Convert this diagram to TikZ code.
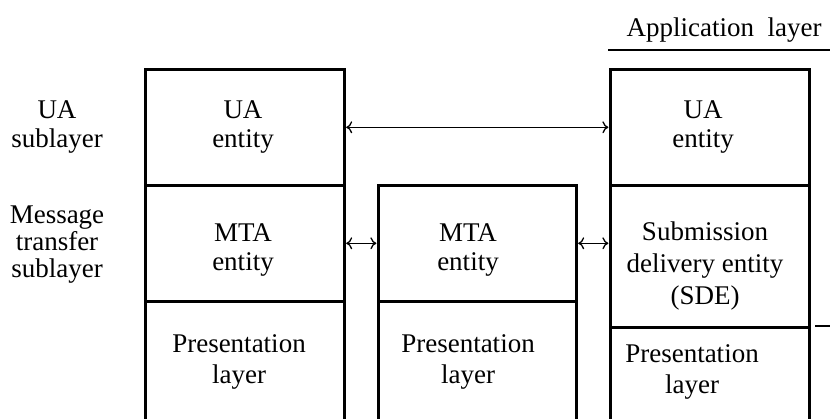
\documentclass[tikz,border=0pt]{standalone}
\usepackage{fontspec}
\setmainfont{Liberation Serif}
\usetikzlibrary{arrows.meta}
\begin{document}
\begin{tikzpicture}[x=1pt,y=-1pt,
  box/.style={draw,line width=2.6pt,inner sep=0pt,anchor=north west},
  lbl/.style={align=center,inner sep=0pt,font=\fontsize{27}{29}\selectfont},
  link/.style={line width=1.3pt,{To[length=6pt,width=12pt]}-{To[length=6pt,width=12pt]},shorten <=0.6pt,shorten >=0.6pt},
  thin/.style={line width=1.5pt}]
\path[use as bounding box,clip] (0,0) rectangle (830,419);
% left stack
\node[box,minimum width=199pt,minimum height=116pt] (lUA) at (144,68) {};
\node[box,minimum width=199pt,minimum height=116pt] (lMTA) at (144,184) {};
\node[box,minimum width=199pt,minimum height=140pt] (lPres) at (144,300) {};
% middle stack
\node[box,minimum width=198pt,minimum height=116pt] (mMTA) at (377,184) {};
\node[box,minimum width=198pt,minimum height=140pt] (mPres) at (377,300) {};
% right stack
\node[box,minimum width=199pt,minimum height=116pt] (rUA) at (609,68) {};
\node[box,minimum width=199pt,minimum height=142pt] (rSDE) at (609,184) {};
\node[box,minimum width=199pt,minimum height=120pt] (rPres) at (609,326) {};
% texts
\node[lbl] (tlUA) at (243,127) {UA\\entity};
\node[lbl] (tlMTA) at (243,250) {MTA\\entity};
\node[lbl,font=\fontsize{27}{31}\selectfont] (tlPres) at (239,362) {Presentation\\layer};
\node[lbl] (tmMTA) at (468,250) {MTA\\entity};
\node[lbl,font=\fontsize{27}{31}\selectfont] (tmPres) at (468,362) {Presentation\\layer};
\node[lbl] (trUA) at (703,127) {UA\\entity};
\node[lbl,font=\fontsize{27}{32}\selectfont] (trSDE) at (705,266) {Submission\\delivery entity\\(SDE)};
\node[lbl,font=\fontsize{27}{31}\selectfont] (trPres) at (692,372) {Presentation\\layer};
\node[lbl] (sUA) at (57,127) {UA\\sublayer};
\node[lbl,font=\fontsize{27}{27}\selectfont] (sMT) at (57,245) {Message\\transfer\\sublayer};
\node[lbl] (app) at (724,30) {Application\ \ layer};
% connectors
\draw[link] (lUA.east) -- (rUA.west);
\draw[link] (lMTA.east) -- (mMTA.west);
\draw[link] (mMTA.east) -- (rSDE.west |- mMTA.east);
% rules
\coordinate (ulA) at (608,50);
\coordinate (ulB) at (830,50);
\draw[thin] (ulA) -- (ulB);
\coordinate (rsA) at (815,326);
\coordinate (rsB) at (830,326);
\draw[line width=2.2pt] (rsA) -- (rsB);
\end{tikzpicture}
\end{document}
